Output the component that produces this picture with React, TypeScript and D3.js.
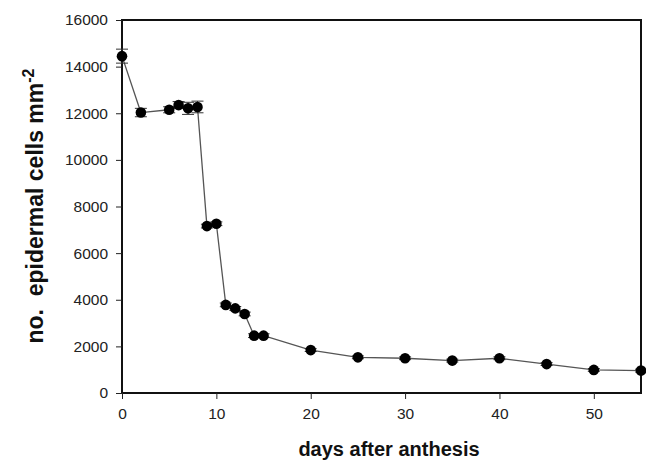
import { useEffect, useRef } from 'react';
import * as d3 from 'd3';

const days = [0, 2, 5, 6, 7, 8, 9, 10, 11, 12, 13, 14, 15, 20, 25, 30, 35, 40, 45, 50, 55];
const cells = [14450, 12030, 12150, 12350, 12210, 12270, 7160, 7260, 3780, 3630, 3390, 2460, 2460, 1840, 1530, 1490, 1390, 1490, 1240, 990, 960];
const errors = [300, 180, 130, 150, 260, 250, 80, 80, 80, 80, 80, 80, 80, 60, 60, 60, 60, 60, 60, 60, 60];
const xTicks = [0, 10, 20, 30, 40, 50];
const yTicks = [0, 2000, 4000, 6000, 8000, 10000, 12000, 14000, 16000];

function App() {
  const ref = useRef<SVGSVGElement>(null);

  useEffect(() => {
    const svg = d3.select(ref.current);
    svg.selectAll('*').remove();

    const left = 122, right = 641, top = 20, bottom = 393;
    const x = d3.scaleLinear().domain([0, 55]).range([left, right]);
    const y = d3.scaleLinear().domain([0, 16000]).range([bottom, top]);
    const font = 'Arial, "Liberation Sans", sans-serif';

    // frame
    svg.append('path')
      .attr('d', `M${left},${top}H${right}V${bottom}H${left}Z`)
      .attr('fill', 'none')
      .attr('stroke', '#111')
      .attr('stroke-width', 2);

    const xAxis = svg.append('g')
      .attr('transform', `translate(0,${bottom})`)
      .call(d3.axisBottom(x).tickValues(xTicks).tickSize(6).tickPadding(9).tickSizeOuter(0));
    const yAxis = svg.append('g')
      .attr('transform', `translate(${left},0)`)
      .call(d3.axisLeft(y).tickValues(yTicks).tickFormat(d3.format('d')).tickSize(6).tickPadding(8).tickSizeOuter(0));

    [xAxis, yAxis].forEach((g) => {
      g.select('.domain').remove();
      g.selectAll('line').attr('stroke', '#222').attr('stroke-width', 1);
      g.selectAll('text')
        .attr('font-family', font)
        .attr('font-size', 15.5)
        .attr('fill', '#222');
    });

    const line = d3.line<number>()
      .x((d, i) => x(days[i]))
      .y((d) => y(d));

    svg.append('path')
      .datum(cells)
      .attr('d', line)
      .attr('fill', 'none')
      .attr('stroke', '#555')
      .attr('stroke-width', 1.3);

    const eb = svg.append('g').attr('stroke', '#333').attr('stroke-width', 1);
    cells.forEach((v, i) => {
      const cx = x(days[i]);
      eb.append('line')
        .attr('x1', cx).attr('x2', cx)
        .attr('y1', y(v - errors[i])).attr('y2', y(v + errors[i]));
      [v - errors[i], v + errors[i]].forEach((e) => {
        eb.append('line')
          .attr('x1', cx - 6).attr('x2', cx + 6)
          .attr('y1', y(e)).attr('y2', y(e));
      });
    });

    svg.append('g')
      .selectAll('circle')
      .data(cells)
      .enter()
      .append('circle')
      .attr('cx', (d, i) => x(days[i]))
      .attr('cy', (d) => y(d))
      .attr('r', 5.3)
      .attr('fill', '#000');

    svg.append('text')
      .attr('x', 389)
      .attr('y', 456)
      .attr('text-anchor', 'middle')
      .attr('font-family', font)
      .attr('font-size', 20)
      .attr('font-weight', 'bold')
      .attr('fill', '#111')
      .text('days after anthesis');

    const yt = svg.append('text')
      .attr('transform', 'translate(43,206) rotate(-90)')
      .attr('text-anchor', 'middle')
      .attr('font-family', font)
      .attr('font-size', 23)
      .attr('font-weight', 'bold')
      .attr('fill', '#111');
    yt.append('tspan').attr('xml:space', 'preserve').text('no.  epidermal cells mm');
    yt.append('tspan').attr('dy', -9).attr('font-size', 16).text('-2');
  }, []);

  return (
    <svg ref={ref} width="646" height="464" style={{ position: 'absolute', left: 0, top: 0 }} />
  );
}

export default App;
